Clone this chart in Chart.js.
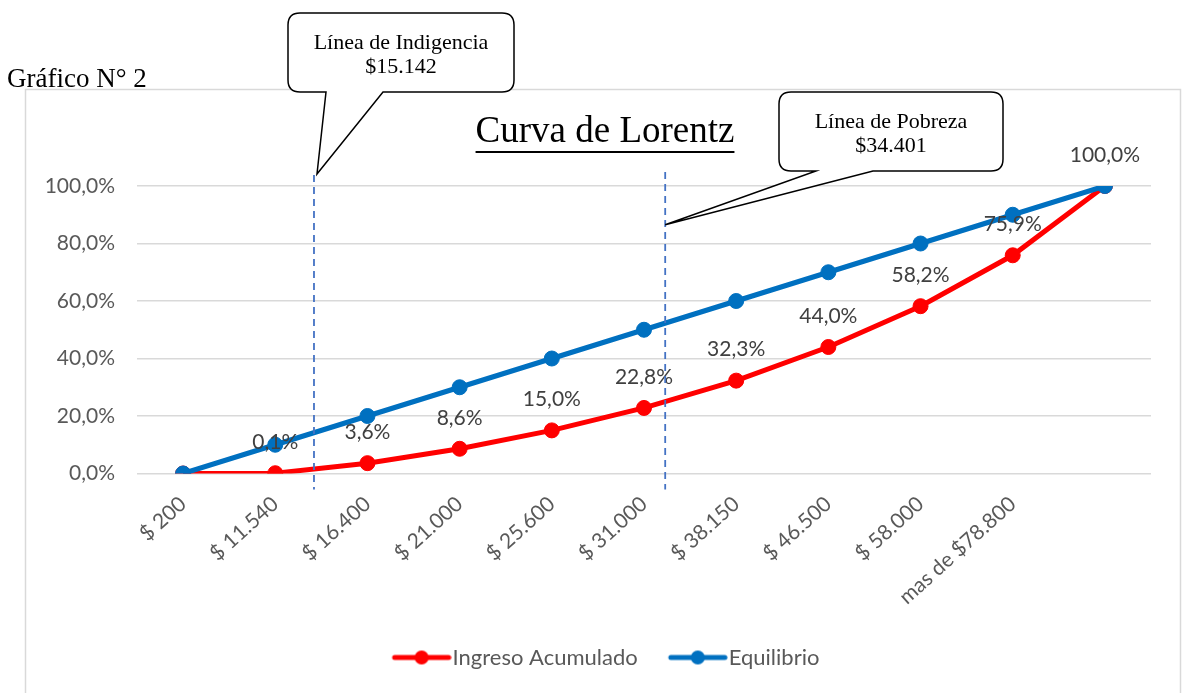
<!DOCTYPE html>
<html>
<head>
<meta charset="utf-8">
<script src="https://cdn.jsdelivr.net/npm/chart.js@4/dist/chart.umd.min.js"></script>
<style>
  html, body { margin: 0; padding: 0; background: #ffffff; }
  #wrap { width: 1182px; height: 693px; position: relative; }
</style>
</head>
<body>
<div id="wrap"><canvas id="c" width="1182" height="693"></canvas></div>
<script>
// ---------- data ----------
const categories = ['$ 200', '$ 11.540', '$ 16.400', '$ 21.000', '$ 25.600', '$ 31.000',
                    '$ 38.150', '$ 46.500', '$ 58.000', 'mas de $78.800', ''];
const ingresoAcumulado = [0.0, 0.1, 3.6, 8.6, 15.0, 22.8, 32.3, 44.0, 58.2, 75.9, 100.0];
const equilibrio = [0, 10, 20, 30, 40, 50, 60, 70, 80, 90, 100];
const seriesNames = ['Ingreso Acumulado', 'Equilibrio'];
const yTickValues = [0, 20, 40, 60, 80, 100];
const pageTitle = 'Gráfico N° 2';
const chartTitle = 'Curva de Lorentz';
// reference lines (position on the category axis) and callout texts
const refLinePositions = [1.42, 5.23];
const refLineTexts = [['Línea de Indigencia', '$15.142'], ['Línea de Pobreza', '$34.401']];

// ---------- styling ----------
const RED = '#FF0000';
const BLUE = '#0070C0';
const AXIS_TEXT = '#595959';
const LABEL_TEXT = '#404040';
const GRID = '#D9D9D9';
const fmtPct = v => v.toFixed(1).replace('.', ',') + '%';

// legend symbols (line + marker) as canvas images
function legendSymbol(color) {
  const c = document.createElement('canvas');
  c.width = 80; c.height = 18;
  const g = c.getContext('2d');
  g.strokeStyle = color; g.lineWidth = 5; g.lineCap = 'round';
  g.beginPath(); g.moveTo(23, 9); g.lineTo(77, 9); g.stroke();
  g.fillStyle = color;
  g.beginPath(); g.arc(50, 9, 7, 0, Math.PI * 2); g.fill();
  return c;
}
const legendImgs = [legendSymbol(RED), legendSymbol(BLUE)];

function drawCallout(ctx, box, tailA, tailB, tip, lines, baselines) {
  const {x, y, w, h} = box, r = 12;
  const bottom = y + h;
  ctx.save();
  ctx.beginPath();
  ctx.moveTo(x + r, y);
  ctx.lineTo(x + w - r, y);
  ctx.quadraticCurveTo(x + w, y, x + w, y + r);
  ctx.lineTo(x + w, bottom - r);
  ctx.quadraticCurveTo(x + w, bottom, x + w - r, bottom);
  ctx.lineTo(tailB, bottom);
  ctx.lineTo(tip.x, tip.y);
  ctx.lineTo(tailA, bottom);
  ctx.lineTo(x + r, bottom);
  ctx.quadraticCurveTo(x, bottom, x, bottom - r);
  ctx.lineTo(x, y + r);
  ctx.quadraticCurveTo(x, y, x + r, y);
  ctx.closePath();
  ctx.fillStyle = '#ffffff';
  ctx.fill();
  ctx.strokeStyle = '#000000';
  ctx.lineWidth = 1.5;
  ctx.lineJoin = 'miter';
  ctx.stroke();
  ctx.fillStyle = '#000000';
  ctx.font = '22px "Liberation Serif", "Times New Roman", serif';
  ctx.textAlign = 'center';
  ctx.textBaseline = 'alphabetic';
  lines.forEach((t, i) => ctx.fillText(t, x + w / 2, baselines[i]));
  ctx.restore();
}

const decorPlugin = {
  id: 'decor',
  afterLayout(chart) {
    // Excel centres the legend slightly right of the plot centre
    chart.legend.left += 10;
    chart.legend.right += 10;
  },
  beforeDraw(chart) {
    const ctx = chart.ctx;
    ctx.save();
    ctx.fillStyle = '#ffffff';
    ctx.fillRect(0, 0, chart.width, chart.height);
    ctx.strokeStyle = GRID;
    ctx.lineWidth = 1.5;
    ctx.strokeRect(25.5, 89.5, 1155, 700);
    ctx.fillStyle = '#000000';
    ctx.font = '27px "Liberation Serif", "Times New Roman", serif';
    ctx.textAlign = 'left';
    ctx.textBaseline = 'alphabetic';
    ctx.fillText(pageTitle, 7, 87);
    ctx.font = '37px "Liberation Serif", "Times New Roman", serif';
    ctx.textAlign = 'center';
    const tx = 605, ty = 142;
    ctx.fillText(chartTitle, tx, ty);
    const tw = ctx.measureText(chartTitle).width;
    ctx.fillRect(tx - tw / 2, ty + 9, tw, 2);
    ctx.restore();
  },
  afterDatasetsDraw(chart) {
    const ctx = chart.ctx;
    const meta = chart.getDatasetMeta(0);
    ctx.save();
    ctx.fillStyle = LABEL_TEXT;
    ctx.font = '21px Lato, "Open Sans", sans-serif';
    ctx.textAlign = 'center';
    ctx.textBaseline = 'middle';
    meta.data.forEach((pt, i) => {
      if (i === 0) return; // first point has no label in the original
      ctx.fillText(fmtPct(ingresoAcumulado[i]), pt.x, pt.y - 31);
    });
    ctx.restore();
  },
  afterDraw(chart) {
    const ctx = chart.ctx;
    const xs = chart.scales.x;
    const area = chart.chartArea;
    const lx = refLinePositions.map(p => xs.getPixelForValue(p));
    // dashed vertical lines
    ctx.save();
    ctx.strokeStyle = '#4472C4';
    ctx.lineWidth = 1.8;
    ctx.setLineDash([7, 5]);
    const tops = [area.top - 11, area.top - 14];
    lx.forEach((x, i) => {
      ctx.beginPath();
      ctx.moveTo(x, tops[i]);
      ctx.lineTo(x, area.bottom + 16);
      ctx.stroke();
    });
    ctx.restore();
    // callouts
    drawCallout(ctx, {x: 288, y: 13, w: 226, h: 79}, 326, 383,
      {x: lx[0] + 3, y: tops[0] - 1}, refLineTexts[0], [49, 73]);
    drawCallout(ctx, {x: 779, y: 92, w: 224, h: 79}, 816, 873,
      {x: lx[1], y: chart.scales.y.getPixelForValue(86.5)}, refLineTexts[1], [128, 152]);
  }
};

Chart.defaults.font.family = 'Lato, "Open Sans", sans-serif';

new Chart(document.getElementById('c'), {
  type: 'line',
  data: {
    labels: categories,
    datasets: [
      {
        label: seriesNames[0],
        data: ingresoAcumulado,
        borderColor: RED,
        backgroundColor: RED,
        pointBackgroundColor: RED,
        pointBorderColor: RED,
        borderWidth: 5,
        pointRadius: 7.5,
        pointBorderWidth: 1,
        tension: 0,
        order: 1
      },
      {
        label: seriesNames[1],
        data: equilibrio,
        borderColor: BLUE,
        backgroundColor: BLUE,
        pointBackgroundColor: BLUE,
        pointBorderColor: BLUE,
        borderWidth: 5,
        pointRadius: 7.5,
        pointBorderWidth: 1,
        tension: 0,
        order: 0
      }
    ]
  },
  options: {
    responsive: false,
    animation: false,
    devicePixelRatio: 1,
    layout: { padding: { left: 30, right: 31, top: 186, bottom: 14.5 } },
    scales: {
      x: {
        type: 'category',
        offset: true,
        grid: { display: false },
        border: { display: false },
        ticks: {
          color: AXIS_TEXT,
          font: { size: 21 },
          minRotation: 42,
          maxRotation: 42,
          autoSkip: false,
          padding: 10
        },
        afterFit(s) { s.height = 153; }
      },
      y: {
        min: 0,
        max: 100,
        afterBuildTicks(s) { s.ticks = yTickValues.map(v => ({ value: v })); },
        ticks: {
          color: AXIS_TEXT,
          font: { size: 21 },
          padding: 22,
          callback: v => fmtPct(v)
        },
        grid: { color: GRID, lineWidth: 1.5, drawTicks: false },
        border: { display: false },
        afterFit(s) { s.width = 107; }
      }
    },
    plugins: {
      legend: {
        position: 'bottom',
        labels: {
          color: AXIS_TEXT,
          font: { size: 22 },
          usePointStyle: true,
          pointStyleWidth: 60,
          padding: 20,
          sort: (a, b) => a.datasetIndex - b.datasetIndex,
          generateLabels(chart) {
            const items = Chart.defaults.plugins.legend.labels.generateLabels(chart);
            items.forEach(it => { it.pointStyle = legendImgs[it.datasetIndex]; });
            return items;
          }
        }
      },
      tooltip: { enabled: false },
      title: { display: false }
    }
  },
  plugins: [decorPlugin]
});
</script>
</body>
</html>
